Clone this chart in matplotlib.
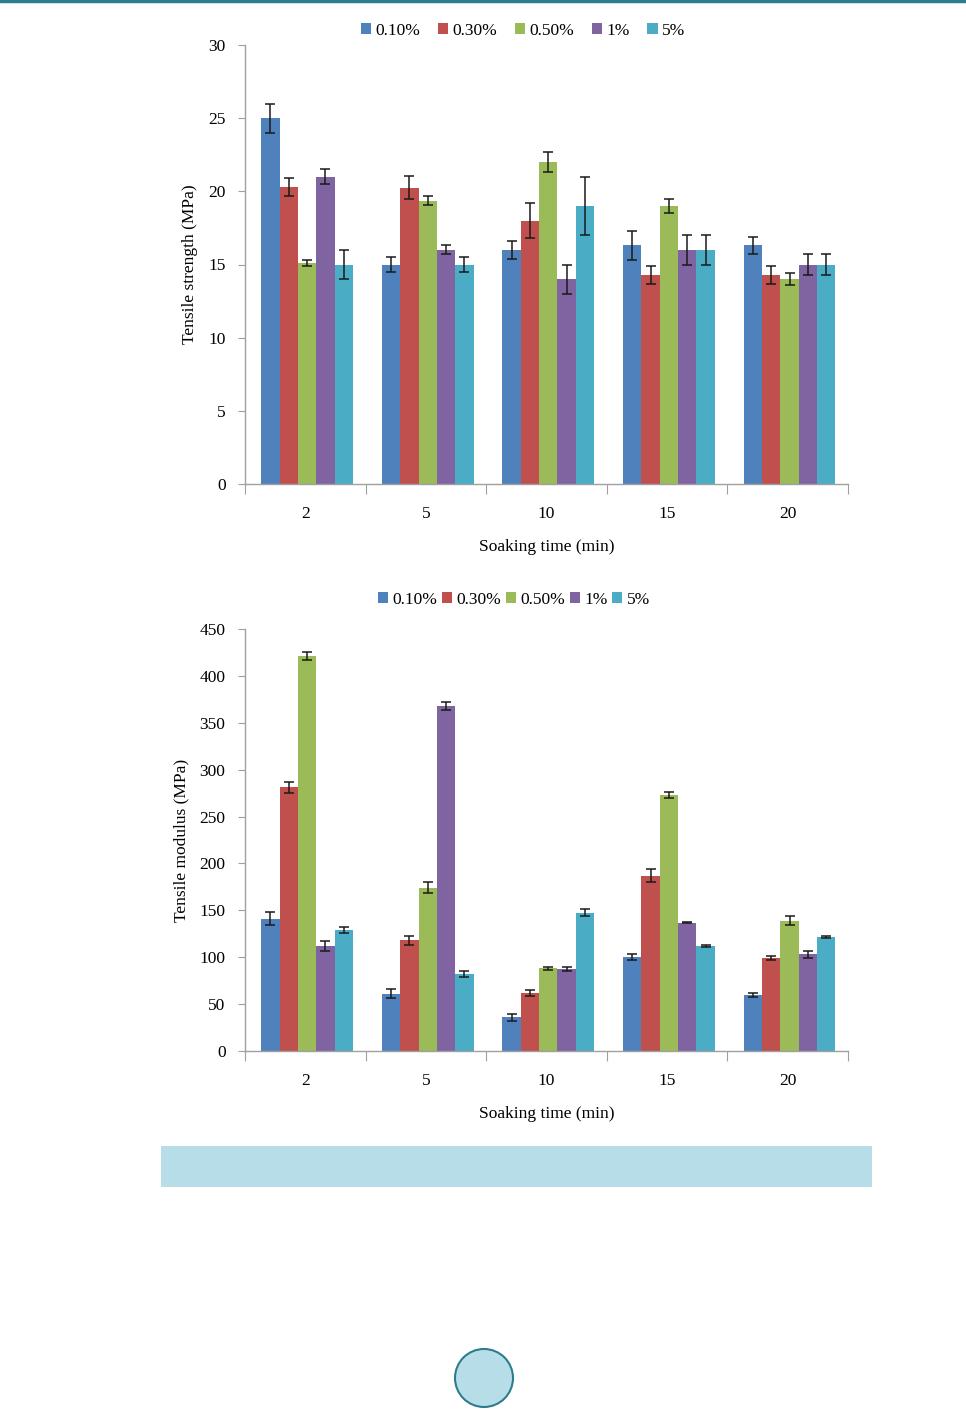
import matplotlib
matplotlib.use("Agg")
import matplotlib.pyplot as plt
import numpy as np
from matplotlib.patches import Rectangle, Ellipse
from matplotlib.lines import Line2D

plt.rcParams['font.family'] = ['Liberation Serif', 'DejaVu Serif']

soaking = ["2", "5", "10", "15", "20"]
series = ["0.10%", "0.30%", "0.50%", "1%", "5%"]
colors = ["#4F81BD", "#C0504D", "#9BBB59", "#8064A2", "#4BACC6"]

# Tensile strength (MPa): rows = series, columns = soaking time
strength = [
    [25.0, 15.0, 16.0, 16.3, 16.3],
    [20.3, 20.25, 18.0, 14.3, 14.3],
    [15.1, 19.35, 22.0, 19.0, 14.0],
    [21.0, 16.0, 14.0, 16.0, 15.0],
    [15.0, 15.0, 19.0, 16.0, 15.0],
]
strength_err = [
    [1.0, 0.5, 0.6, 1.0, 0.6],
    [0.6, 0.8, 1.2, 0.6, 0.6],
    [0.2, 0.3, 0.7, 0.5, 0.4],
    [0.5, 0.3, 1.0, 1.0, 0.7],
    [1.0, 0.5, 2.0, 1.0, 0.7],
]

# Tensile modulus (MPa)
modulus = [
    [141, 61, 36, 100, 59.5],
    [281, 118, 62, 187, 99],
    [421, 174, 88, 273, 139],
    [112, 368, 87.5, 137, 103],
    [129, 82, 147.5, 112, 122],
]
modulus_err = [
    [7, 5, 3.5, 3, 2],
    [6, 5, 3.5, 7, 2],
    [4, 6, 2, 3, 5],
    [5, 4, 2, 1, 4],
    [3, 3, 4, 1, 1],
]

W, H = 966, 1409
fig = plt.figure(figsize=(W / 100, H / 100), dpi=100)
fig.patch.set_facecolor("white")

def px_axes(x0, y_top, x1, y_bot):
    return fig.add_axes([x0 / W, 1 - y_bot / H, (x1 - x0) / W, (y_bot - y_top) / H])

spine_c = "#A0A0A0"
fs = 12.5

def draw(ax, vals, errs, ymax, ystep, ylabel, legend_x, legend_y, colsp):
    n = len(soaking)
    x = np.arange(n)
    bw = 0.152
    handles = []
    for i, (v, e) in enumerate(zip(vals, errs)):
        pos = x + (i - 2) * bw + 0.015
        b = ax.bar(pos, v, width=bw, color=colors[i], label=series[i], zorder=2)
        handles.append(b)
        ax.errorbar(pos, v, yerr=e, fmt='none', ecolor="#1a1a1a", elinewidth=1.1,
                    capsize=3.5, capthick=1.1, zorder=3)
    ax.set_xlim(-0.5, n - 0.5)
    ax.set_ylim(0, ymax)
    ax.set_yticks(np.arange(0, ymax + 0.01, ystep))
    ax.set_xticks(np.arange(-0.5, n, 1.0))
    ax.set_xticklabels([])
    ax.set_xticks(x, minor=True)
    ax.set_xticklabels(soaking, minor=True)
    ax.tick_params(axis='x', which='major', length=7, color=spine_c, direction='out')
    ax.tick_params(axis='x', which='minor', length=0, pad=16, labelsize=fs)
    ax.tick_params(axis='y', length=5, color=spine_c, labelsize=fs, pad=9)
    for s in ("top", "right"):
        ax.spines[s].set_visible(False)
    for s in ("left", "bottom"):
        ax.spines[s].set_color(spine_c)
        ax.spines[s].set_linewidth(1.0)
    ax.set_xlabel("Soaking time (min)", fontsize=fs, labelpad=12)
    ax.set_ylabel(ylabel, fontsize=fs, labelpad=7)
    fig.legend(handles=handles, labels=series, loc='center',
               bbox_to_anchor=(legend_x / W, 1 - legend_y / H),
               ncol=5, frameon=False, fontsize=fs, handlelength=0.6, handleheight=0.6,
               handletextpad=0.25, columnspacing=colsp, borderaxespad=0)

ax1 = px_axes(245, 45, 848, 484)
draw(ax1, strength, strength_err, 30, 5, "Tensile strength (MPa)", 523, 31, 1.0)

ax2 = px_axes(245, 629, 848, 1051)
draw(ax2, modulus, modulus_err, 450, 50, "Tensile modulus (MPa)", 514, 600, 0.25)

# page decorations
fig.add_artist(Line2D([0, 1], [1 - 1 / H, 1 - 1 / H], transform=fig.transFigure,
                      color="#2E7D8C", lw=2.5))
fig.add_artist(Rectangle((161 / W, 1 - 1187 / H), (872 - 161) / W, (1187 - 1146) / H,
                         transform=fig.transFigure, facecolor="#B7DDE8", edgecolor="none"))
fig.add_artist(Ellipse((484 / W, 1 - 1378 / H), 58 / W, 58 / H, transform=fig.transFigure,
                       facecolor="#B7DDE8", edgecolor="#2E7D8C", lw=1.5))

fig.savefig("out.png", dpi=100, facecolor="white")
